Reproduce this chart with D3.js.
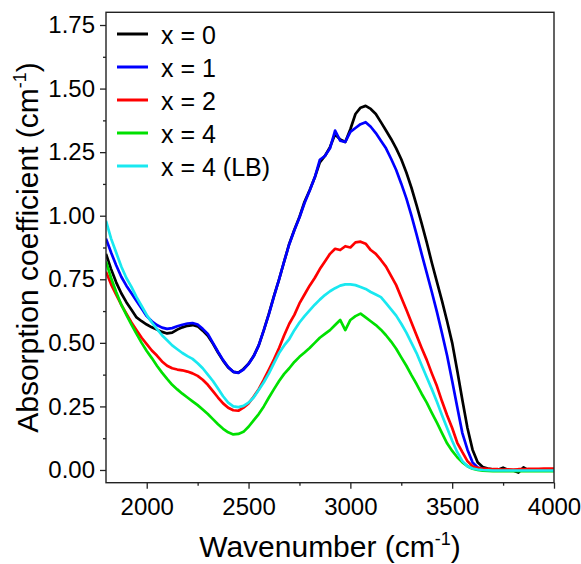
<!DOCTYPE html>
<html>
<head>
<meta charset="utf-8">
<script src="https://cdn.jsdelivr.net/npm/d3@7"></script>
<style>
  html, body { margin: 0; padding: 0; background: #fff; }
  svg { display: block; }
  text { font-family: "Liberation Sans", Arial, sans-serif; fill: #000; }
</style>
</head>
<body>
<svg id="chart" width="581" height="564"></svg>
<script>
// ---------- data ----------
const wavenumbers = [
  1800,1825,1850,1875,1900,1925,1950,1975,2000,2025,2050,2075,2100,2125,2150,2175,
  2200,2225,2250,2275,2300,2325,2350,2375,2400,2425,2450,2475,2500,2525,2550,2575,
  2600,2625,2650,2675,2700,2725,2750,2775,2800,2825,2850,2875,2900,2925,2950,2975,
  3000,3025,3050,3075,3100,3125,3150,3175,3200,3225,3250,3275,3300,3325,3350,3375,
  3400,3425,3450,3475,3500,3525,3550,3575,3600,3625,3650,3675,3700,3725,3750,3775,
  3800,3825,3850,3875,3900,3925,3950,3975,4000
];
const seriesNames = ["x = 0", "x = 1", "x = 2", "x = 4", "x = 4 (LB)"];
const seriesColors = ["#000000", "#0000ff", "#ff0000", "#00e000", "#19e8f0"];

const x0 = [
  .850,.790,.738,.695,.660,.630,.600,.585,.572,.561,.552,.543,.537,.540,.552,.561,
  .567,.570,.565,.548,.528,.497,.462,.430,.403,.386,.383,.397,.418,.448,.490,.550,
  .615,.685,.750,.820,.890,.945,.995,1.055,1.100,1.150,1.210,1.235,1.270,1.320,1.300,1.290,
  1.340,1.400,1.425,1.432,1.420,1.400,1.368,1.335,1.302,1.265,1.222,1.170,1.110,1.042,.970,.895,
  .815,.740,.665,.585,.500,.390,.275,.165,.080,.030,.012,.006,.003,.001,.009,.000,
  -.002,-.010,.010,-.002,-.003,-.002,-.002,-.002,-.002
];
const x1 = [
  .910,.855,.805,.760,.725,.695,.665,.635,.605,.585,.570,.560,.555,.558,.565,.571,
  .576,.578,.572,.555,.535,.500,.465,.432,.405,.386,.382,.395,.417,.447,.490,.550,
  .613,.683,.750,.820,.888,.943,.993,1.050,1.098,1.150,1.220,1.235,1.265,1.335,1.295,1.290,
  1.330,1.345,1.360,1.368,1.350,1.325,1.295,1.265,1.224,1.180,1.126,1.068,1.000,.927,.850,.775,
  .700,.622,.538,.450,.350,.247,.145,.080,.030,.010,.004,.002,.000,-.001,-.002,-.002,
  -.003,-.003,-.003,-.002,-.002,-.002,-.002,-.002,-.002
];
const x2 = [
  .780,.730,.690,.650,.615,.580,.550,.520,.495,.470,.450,.427,.410,.400,.395,.392,
  .387,.380,.370,.355,.335,.310,.285,.262,.245,.235,.233,.245,.262,.288,.318,.355,
  .395,.435,.480,.530,.575,.610,.655,.690,.725,.755,.790,.820,.850,.870,.865,.880,
  .875,.895,.898,.890,.865,.850,.826,.800,.763,.727,.678,.630,.580,.530,.480,.433,
  .380,.330,.270,.215,.165,.107,.070,.035,.015,.008,.005,.004,.003,.003,.002,.003,
  .002,.003,.003,.004,.004,.004,.005,.005,.005
];
const x4 = [
  .820,.755,.700,.650,.610,.572,.535,.500,.468,.440,.410,.383,.358,.335,.317,.300,
  .285,.270,.255,.238,.220,.200,.180,.162,.148,.140,.142,.150,.170,.195,.220,.250,
  .285,.318,.350,.378,.400,.425,.445,.462,.480,.500,.520,.535,.550,.570,.590,.550,
  .590,.605,.615,.600,.585,.570,.552,.530,.505,.477,.443,.410,.373,.338,.300,.265,
  .225,.186,.145,.105,.075,.050,.030,.015,.005,.000,-.003,-.004,-.005,-.005,-.005,-.005,
  -.005,-.005,-.005,-.005,-.005,-.005,-.005,-.005,-.005
];
const x4LB = [
  .980,.910,.855,.800,.755,.720,.680,.645,.610,.580,.555,.530,.510,.490,.475,.460,
  .448,.437,.420,.400,.375,.350,.320,.290,.265,.250,.247,.252,.265,.285,.315,.345,
  .380,.420,.460,.490,.515,.550,.580,.605,.628,.650,.670,.688,.703,.715,.725,.730,
  .730,.727,.720,.712,.700,.690,.680,.656,.632,.607,.575,.540,.500,.460,.412,.365,
  .318,.268,.215,.165,.115,.070,.035,.015,.006,.002,.000,-.001,-.002,-.002,-.002,-.002,
  -.002,-.002,-.002,-.002,-.002,-.002,-.002,-.002,-.002
];
const seriesValues = [x0, x1, x2, x4, x4LB];

const xTicks = [2000, 2500, 3000, 3500, 4000];
const xMinorTicks = [2250, 2750, 3250, 3750];
const yTicks = [0, 0.25, 0.5, 0.75, 1.0, 1.25, 1.5, 1.75];
const yMinorTicks = [0.125, 0.375, 0.625, 0.875, 1.125, 1.375, 1.625];
const xDomain = [1800, 4000];
const yDomain = [-0.05, 1.8];

// ---------- layout ----------
const svg = d3.select("#chart");
const L = 106, R = 554, T = 12.3, B = 482.7;

const x = d3.scaleLinear().domain(xDomain).range([L, R]);
const y = d3.scaleLinear().domain(yDomain).range([B, T]);

svg.append("defs").append("clipPath").attr("id", "plotclip")
  .append("rect").attr("x", L).attr("y", T).attr("width", R - L).attr("height", B - T);

// ---------- lines ----------
const line = d3.line()
  .x((d, i) => x(wavenumbers[i]))
  .y(d => y(d));

const gLines = svg.append("g").attr("clip-path", "url(#plotclip)");
seriesValues.forEach((vals, k) => {
  gLines.append("path")
    .datum(vals)
    .attr("fill", "none")
    .attr("stroke", seriesColors[k])
    .attr("stroke-width", 2.7)
    .attr("stroke-linejoin", "round")
    .attr("d", line);
});

// ---------- axes ----------
const axisColor = "#222";
const xAxis = svg.append("g").attr("transform", `translate(0,${B})`)
  .call(d3.axisBottom(x).tickValues(xTicks).tickSize(6).tickPadding(9).tickFormat(d3.format("d")));
const xAxisMinor = svg.append("g").attr("transform", `translate(0,${B})`)
  .call(d3.axisBottom(x).tickValues(xMinorTicks).tickSize(3).tickFormat(""));
const yAxis = svg.append("g").attr("transform", `translate(${L},0)`)
  .call(d3.axisLeft(y).tickValues(yTicks).tickSize(6).tickPadding(5).tickFormat(d3.format(".2f")));
const yAxisMinor = svg.append("g").attr("transform", `translate(${L},0)`)
  .call(d3.axisLeft(y).tickValues(yMinorTicks).tickSize(3).tickFormat(""));

[xAxis, xAxisMinor, yAxis, yAxisMinor].forEach(g => {
  g.select(".domain").remove();
  g.selectAll(".tick line").attr("stroke", axisColor).attr("stroke-width", 1.3);
  g.selectAll(".tick text")
    .style("font-family", '"Liberation Sans", Arial, sans-serif')
    .style("font-size", "24px").attr("fill", "#000");
});

// frame
svg.append("rect")
  .attr("x", L).attr("y", T).attr("width", R - L).attr("height", B - T)
  .attr("fill", "none").attr("stroke", axisColor).attr("stroke-width", 1.4);

// ---------- axis titles ----------
const xt = svg.append("text")
  .attr("x", (L + R) / 2).attr("y", 557)
  .attr("text-anchor", "middle").style("font-size", "30px");
xt.append("tspan").text("Wavenumber (cm");
xt.append("tspan").attr("dy", -12).style("font-size", "18px").text("-1");
xt.append("tspan").attr("dy", 12).text(")");

const yt = svg.append("text")
  .attr("transform", `translate(38,${(T + B) / 2}) rotate(-90)`)
  .attr("text-anchor", "middle").style("font-size", "30px");
yt.append("tspan").text("Absorption coefficient (cm");
yt.append("tspan").attr("dy", -12).style("font-size", "18px").text("-1");
yt.append("tspan").attr("dy", 12).text(")");

// ---------- legend ----------
const legend = svg.append("g");
seriesNames.forEach((name, k) => {
  const ly = 34 + k * 33;
  legend.append("line")
    .attr("x1", 117).attr("x2", 148).attr("y1", ly).attr("y2", ly)
    .attr("stroke", seriesColors[k]).attr("stroke-width", 3);
  legend.append("text")
    .attr("x", 161).attr("y", ly + 10)
    .style("font-size", "25px").text(name);
});
</script>
</body>
</html>
